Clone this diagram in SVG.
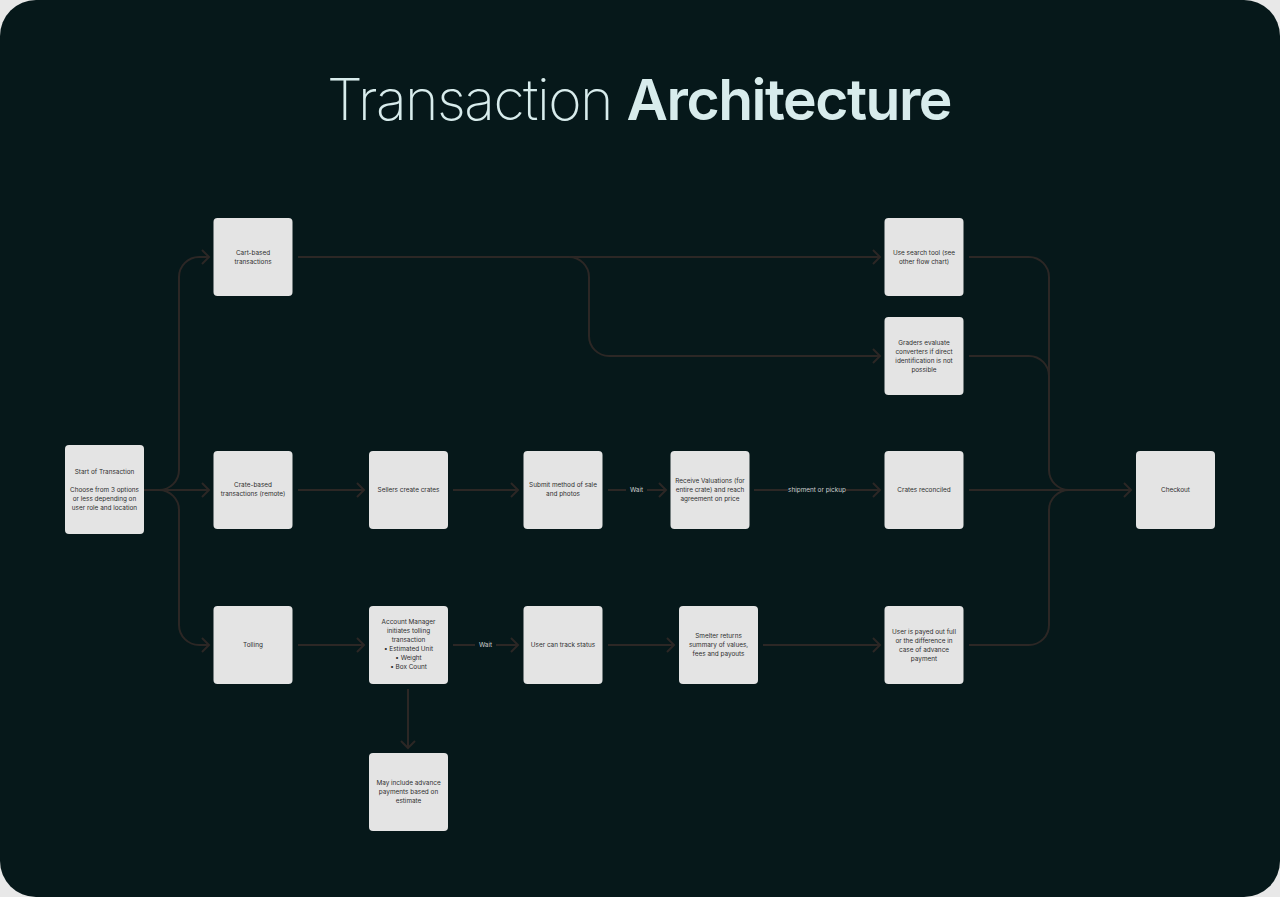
<svg xmlns="http://www.w3.org/2000/svg" width="1280" height="897" viewBox="0 0 1280 897">
<defs>
<style>
.node rect{fill:#E4E4E4;}
.node text{font-family:Inter,"Liberation Sans",sans-serif;font-size:6.4px;fill:#2f2f2f;text-anchor:middle;}
.conn path{fill:none;stroke:#2C2725;stroke-width:2;}
.lbl{font-family:Inter,"Liberation Sans",sans-serif;font-size:6.4px;fill:#cfcfcf;text-anchor:middle;}
.lblbg{fill:#06181A;}
</style>
<marker id="arr" markerUnits="userSpaceOnUse" viewBox="-10 -10 20 20" markerWidth="20" markerHeight="20" refX="0" refY="0" orient="auto">
<path d="M-7,-7 L0,0 L-7,7" fill="none" stroke="#2C2725" stroke-width="2"/>
</marker>
</defs>
<rect x="0" y="0" width="1280" height="897" fill="#E8E8E8"/>
<rect x="0" y="0" width="1280" height="897" rx="36" fill="#06181A"/>
<text x="639" y="120" font-family="Inter,'Liberation Sans',sans-serif" font-size="57" letter-spacing="-1.5" fill="#D8ECEC" text-anchor="middle"><tspan font-weight="200">Transaction </tspan><tspan font-weight="600">Architecture</tspan></text>

<g class="conn">
<path d="M144,490 H159 A20,20 0 0 0 179,470 V277 A20,20 0 0 1 199,257 H209" marker-end="url(#arr)"/>
<path d="M144,490 H209" marker-end="url(#arr)"/>
<path d="M144,490 H159 A20,20 0 0 1 179,510 V625 A20,20 0 0 0 199,645 H209" marker-end="url(#arr)"/>
<path d="M298,257 H880" marker-end="url(#arr)"/>
<path d="M298,257 H569 A20,20 0 0 1 589,277 V336 A20,20 0 0 0 609,356 H880" marker-end="url(#arr)"/>
<path d="M969,257 H1029 A20,20 0 0 1 1049,277 V470 A20,20 0 0 0 1069,490"/>
<path d="M969,356 H1029 A20,20 0 0 1 1049,376 V470"/>
<path d="M969,645 H1029 A20,20 0 0 0 1049,625 V510 A20,20 0 0 1 1069,490"/>
<path d="M969,490 H1131" marker-end="url(#arr)"/>
<path d="M298,490 H364" marker-end="url(#arr)"/>
<path d="M453,490 H518" marker-end="url(#arr)"/>
<path d="M608,490 H666" marker-end="url(#arr)"/>
<path d="M754,490 H880" marker-end="url(#arr)"/>
<path d="M298,645 H364" marker-end="url(#arr)"/>
<path d="M453,645 H518" marker-end="url(#arr)"/>
<path d="M608,645 H674" marker-end="url(#arr)"/>
<path d="M763,645 H880" marker-end="url(#arr)"/>
<path d="M408,689 V748" marker-end="url(#arr)"/>
<rect class="lblbg" x="626" y="485" width="21" height="10"/>
<text class="lbl" x="636.5" y="492.3">Wait</text>
<rect class="lblbg" x="788" y="485" width="58" height="10"/>
<text class="lbl" x="817" y="492.3">shipment or pickup</text>
<rect class="lblbg" x="475" y="640" width="21" height="10"/>
<text class="lbl" x="485.5" y="647.3">Wait</text>
</g>

<g id="start" class="node"><rect x="65" y="445" width="79" height="89" rx="4"/><text x="104.5" y="474.3"><tspan x="104.5">Start of Transaction</tspan><tspan x="104.5" dy="18">Choose from 3 options</tspan><tspan x="104.5" dy="9">or less depending on</tspan><tspan x="104.5" dy="9">user role and location</tspan></text></g>
<g id="cart" class="node"><rect x="213.5" y="218" width="79" height="78" rx="4"/><text x="253" y="255.3"><tspan x="253">Cart-based</tspan><tspan x="253" dy="9">transactions</tspan></text></g>
<g id="crate" class="node"><rect x="213.5" y="451" width="79" height="78" rx="4"/><text x="253" y="487.3"><tspan x="253">Crate-based</tspan><tspan x="253" dy="9">transactions (remote)</tspan></text></g>
<g id="tolling" class="node"><rect x="213.5" y="606" width="79" height="78" rx="4"/><text x="253" y="647.3">Tolling</text></g>
<g id="sellers" class="node"><rect x="369" y="451" width="79" height="78" rx="4"/><text x="408.5" y="492.3">Sellers create crates</text></g>
<g id="submit" class="node"><rect x="523.5" y="451" width="79" height="78" rx="4"/><text x="563" y="487.3"><tspan x="563">Submit method of sale</tspan><tspan x="563" dy="9">and photos</tspan></text></g>
<g id="receive" class="node"><rect x="670.5" y="451" width="79" height="78" rx="4"/><text x="710" y="483.3"><tspan x="710">Receive Valuations (for</tspan><tspan x="710" dy="9">entire crate) and reach</tspan><tspan x="710" dy="9">agreement on price</tspan></text></g>
<g id="reconciled" class="node"><rect x="884.5" y="451" width="79" height="78" rx="4"/><text x="924" y="492.3">Crates reconciled</text></g>
<g id="checkout" class="node"><rect x="1136" y="451" width="79" height="78" rx="4"/><text x="1175.5" y="492.3">Checkout</text></g>
<g id="search" class="node"><rect x="884.5" y="218" width="79" height="78" rx="4"/><text x="924" y="255.3"><tspan x="924">Use search tool (see</tspan><tspan x="924" dy="9">other flow chart)</tspan></text></g>
<g id="graders" class="node"><rect x="884.5" y="317" width="79" height="78" rx="4"/><text x="924" y="344.8"><tspan x="924">Graders evaluate</tspan><tspan x="924" dy="9">converters if direct</tspan><tspan x="924" dy="9">identification is not</tspan><tspan x="924" dy="9">possible</tspan></text></g>
<g id="manager" class="node"><rect x="369" y="606" width="79" height="78" rx="4"/><text x="408.5" y="624.3"><tspan x="408.5">Account Manager</tspan><tspan x="408.5" dy="9">initiates tolling</tspan><tspan x="408.5" dy="9">transaction</tspan><tspan x="408.5" dy="9">• Estimated Unit</tspan><tspan x="408.5" dy="9">• Weight</tspan><tspan x="408.5" dy="9">• Box Count</tspan></text></g>
<g id="track" class="node"><rect x="523.5" y="606" width="79" height="78" rx="4"/><text x="563" y="647.3">User can track status</text></g>
<g id="smelter" class="node"><rect x="679" y="606" width="79" height="78" rx="4"/><text x="718.5" y="638.3"><tspan x="718.5">Smelter returns</tspan><tspan x="718.5" dy="9">summary of values,</tspan><tspan x="718.5" dy="9">fees and payouts</tspan></text></g>
<g id="payout" class="node"><rect x="884.5" y="606" width="79" height="78" rx="4"/><text x="924" y="633.8"><tspan x="924">User is payed out full</tspan><tspan x="924" dy="9">or the difference in</tspan><tspan x="924" dy="9">case of advance</tspan><tspan x="924" dy="9">payment</tspan></text></g>
<g id="advance" class="node"><rect x="369" y="753" width="79" height="78" rx="4"/><text x="408.5" y="785.3"><tspan x="408.5">May include advance</tspan><tspan x="408.5" dy="9">payments based on</tspan><tspan x="408.5" dy="9">estimate</tspan></text></g>
</svg>
